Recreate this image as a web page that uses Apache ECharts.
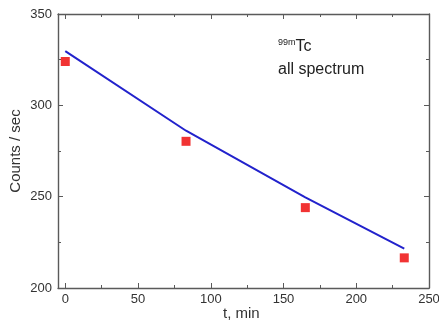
<!DOCTYPE html>
<html><head><meta charset="utf-8">
<script src="https://cdn.jsdelivr.net/npm/echarts@6/dist/echarts.min.js"></script>
<style>html,body{margin:0;padding:0;background:#fff}#c{width:439px;height:324px}</style>
</head><body><div id="c"></div>
<script>
const measuredT = [0, 83, 165, 233];
const measuredCounts = [324, 280.3, 244, 216.5];
const fitT = [0, 83, 165, 233];
const fitCounts = [329.7, 286.1, 249.6, 221.5];
const xMajorTicks = [0, 50, 100, 150, 200, 250];
const xMinorTicks = [25, 75, 125, 175, 225];
const xLabel = 't, min';
const yLabel = 'Counts / sec';

const font = 'Liberation Sans, Arial, sans-serif';
const axisColor = '#5a5a5a';
const labelColor = '#333';
const chart = echarts.init(document.getElementById('c'));

function xAx(pos, major, showLabel) {
  return {
    type: 'value', position: pos, min: -5, max: 250,
    axisLine: { show: major, onZero: false, lineStyle: { color: axisColor, width: 1.4 } },
    axisTick: { show: true, inside: true, length: major ? 5 : 3,
      customValues: major ? xMajorTicks : xMinorTicks, lineStyle: { color: axisColor } },
    axisLabel: { show: showLabel, customValues: xMajorTicks, color: labelColor, fontSize: 13, fontFamily: font, margin: 5 },
    splitLine: { show: false }
  };
}
function yAx(pos, showLabel) {
  return {
    type: 'value', position: pos, min: 200, max: 350, interval: 50,
    axisLine: { show: true, onZero: false, lineStyle: { color: axisColor, width: 1.4 } },
    axisTick: { show: true, inside: true, length: 5, lineStyle: { color: axisColor } },
    minorTick: { show: true, splitNumber: 2, length: 3, lineStyle: { color: axisColor } },
    axisLabel: { show: showLabel, color: labelColor, fontSize: 13, fontFamily: font, margin: 6 },
    splitLine: { show: false }
  };
}

chart.setOption({
  animation: false,
  grid: { left: 58, top: 14, right: 10, bottom: 36, containLabel: false, outerBoundsMode: 'none' },
  xAxis: [xAx('bottom', true, true), xAx('bottom', false, false), xAx('top', true, false), xAx('top', false, false)],
  yAxis: [yAx('left', true), yAx('right', false)],
  graphic: [
    { type: 'text', x: 16, y: 151, rotation: Math.PI / 2,
      style: { text: yLabel, fill: labelColor, font: '15px ' + font, align: 'center', verticalAlign: 'middle' } },
    { type: 'text', left: 223, top: 306,
      style: { text: xLabel, fill: labelColor, font: '15px ' + font } },
    { type: 'text', left: 278, top: 38,
      style: { rich: {
        s: { fontSize: 9, fontFamily: font, fill: '#222', verticalAlign: 'top', padding: [0,0,8,0] },
        b: { fontSize: 16, fontFamily: font, fill: '#222' } },
        text: '{s|99m}{b|Tc}' } },
    { type: 'text', left: 278, top: 62,
      style: { text: 'all spectrum', fill: '#222', font: '16px ' + font } }
  ],
  series: [
    { type: 'line', xAxisIndex: 0, yAxisIndex: 0, data: fitT.map((t, i) => [t, fitCounts[i]]),
      showSymbol: false, symbol: 'none', smooth: false,
      lineStyle: { color: '#2222cc', width: 2 } },
    { type: 'scatter', xAxisIndex: 0, yAxisIndex: 0, data: measuredT.map((t, i) => [t, measuredCounts[i]]),
      symbol: 'rect', symbolSize: 9, itemStyle: { color: '#ee0000' } }
  ]
});
</script></body></html>
